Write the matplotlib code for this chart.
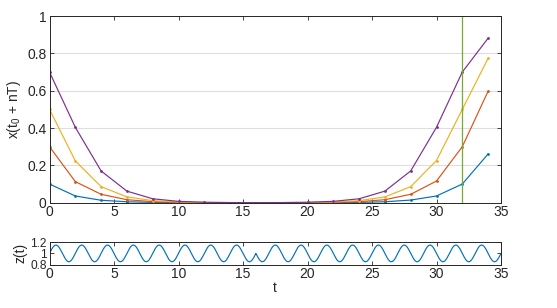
import numpy as np
import matplotlib
matplotlib.use("Agg")
import matplotlib.pyplot as plt

plt.rcParams['font.family'] = ['Liberation Sans', 'DejaVu Sans']
plt.rcParams['mathtext.fontset'] = 'custom'
plt.rcParams['mathtext.rm'] = 'Liberation Sans'
plt.rcParams['mathtext.it'] = 'Liberation Sans'

# ---- data ----
t_samples = [0, 2, 4, 6, 8, 10, 12, 14, 16, 18, 20, 22, 24, 26, 28, 30, 32, 34]
x_blue = [0.10, 0.036, 0.013, 0.005, 0.0017, 0.0006, 0.0002, 0.0001, 0.0, 0.0001, 0.0002, 0.0006, 0.0017, 0.005, 0.014, 0.036, 0.10, 0.261]
x_orange = [0.30, 0.113, 0.045, 0.016, 0.0055, 0.0019, 0.0006, 0.0002, 0.0001, 0.0002, 0.0006, 0.0019, 0.0055, 0.016, 0.045, 0.116, 0.30, 0.597]
x_yellow = [0.50, 0.224, 0.086, 0.031, 0.011, 0.0037, 0.0012, 0.0004, 0.0002, 0.0004, 0.0012, 0.0037, 0.011, 0.031, 0.086, 0.226, 0.50, 0.773]
x_purple = [0.70, 0.404, 0.170, 0.062, 0.021, 0.0072, 0.0024, 0.0008, 0.0003, 0.0008, 0.0024, 0.0072, 0.021, 0.062, 0.170, 0.404, 0.70, 0.881]
series = [x_blue, x_orange, x_yellow, x_purple]
marker_line_t = 32

# forcing signal z(t): mean, amplitude, period, time of half-period phase jump
z_mean = 1.0
z_amp = 0.15
z_period = 2.0
z_jump_t = 16.0
z_tmax = 35.0

xticks = [0, 5, 10, 15, 20, 25, 30, 35]
yticks_top = [0, 0.2, 0.4, 0.6, 0.8, 1]
yticks_bot = [0.8, 1, 1.2]

# ---- style ----
colors = [(0, 0.447, 0.741), (0.85, 0.325, 0.098), (0.929, 0.694, 0.125), (0.494, 0.184, 0.556)]
green = (0.466, 0.674, 0.188)
txt = (0.15, 0.15, 0.15)
fs = 10

fig = plt.figure(figsize=(5.57, 3.08), dpi=100)
W, H = 557, 308
ax1 = fig.add_axes([49.5 / W, 1 - 202.7 / H, (501 - 49.5) / W, (202.7 - 16) / H])
ax2 = fig.add_axes([49.5 / W, 1 - 264.5 / H, (501 - 49.5) / W, (264.5 - 242.3) / H])

for c, s in zip(colors, series):
    ax1.plot(t_samples, s, color=c, lw=0.85, marker='.', ms=2.0)
ax1.axvline(marker_line_t, color=green, lw=0.9)
ax1.set_xlim(0, 35)
ax1.set_ylim(0, 1)
ax1.set_xticks(xticks)
ax1.set_yticks(yticks_top)
ax1.set_yticklabels(['0', '0.2', '0.4', '0.6', '0.8', '1'])
ax1.yaxis.grid(True, color=(0.87, 0.87, 0.87), lw=0.8)
ax1.set_axisbelow(True)
ax1.set_ylabel(r'x(t$_0$ + nT)', fontsize=fs, color=txt, labelpad=3)

t = np.linspace(0, z_tmax, 3000)
sign = np.where(t < z_jump_t, 1.0, -1.0)
z = z_mean + sign * z_amp * np.sin(2 * np.pi * t / z_period)
ax2.plot(t, z, color=colors[0], lw=0.85)
ax2.set_xlim(0, 35)
ax2.set_ylim(0.8, 1.2)
ax2.set_xticks(xticks)
ax2.set_yticks(yticks_bot)
ax2.set_yticklabels(['0.8', '1', '1.2'])
ax2.set_ylabel('z(t)', fontsize=fs, color=txt, labelpad=2)
ax2.set_xlabel('t', fontsize=fs, color=txt, labelpad=0)

for ax in (ax1, ax2):
    ax.tick_params(direction='in', top=True, right=True, length=3, width=0.6,
                   labelsize=fs, colors=txt, pad=2)
    for sp in ax.spines.values():
        sp.set_linewidth(0.7)
        sp.set_color(txt)
ax2.tick_params(axis='y', labelsize=8.6)

fig.savefig('out.png', dpi=100)
